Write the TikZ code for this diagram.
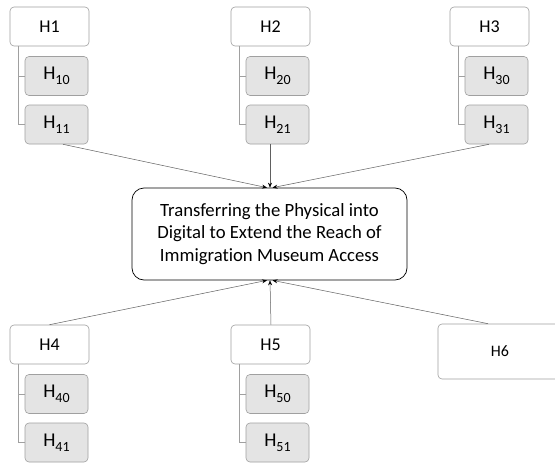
\documentclass[tikz,border=0pt]{standalone}
\usepackage{fontspec}
\setmainfont{Carlito}[Ligatures=NoCommon]
\usetikzlibrary{arrows.meta}
\definecolor{boxline}{HTML}{A0A0A0}
\definecolor{subfill}{HTML}{E4E4E4}
\definecolor{linkgray}{HTML}{606060}
\newcommand{\hsub}[1]{H\raisebox{-5pt}{\fontsize{14}{16}\selectfont #1}}
\tikzset{
  x=1pt, y=-1pt,
  headbox/.style={draw=boxline, fill=white, rounded corners=4pt, line width=0.6pt,
    minimum width=79pt, minimum height=39pt, inner sep=0pt, font=\fontsize{18}{20}\selectfont},
  subbox/.style={draw=boxline, fill=subfill, rounded corners=4pt, line width=0.6pt,
    minimum width=63pt, minimum height=39pt, inner sep=0pt, font=\fontsize{19.5}{22}\selectfont},
  treeline/.style={draw=boxline, line width=0.6pt},
  link/.style={draw=linkgray, line width=0.5pt, -{Stealth[length=5pt,width=4pt,color=black]}},
  mainbox/.style={draw=black, fill=white, rounded corners=12pt, line width=0.7pt,
    minimum width=275pt, minimum height=92pt, align=center, inner sep=0pt,
    font=\fontsize{18.7}{22.5}\selectfont},
}
\begin{document}
\begin{tikzpicture}
\useasboundingbox (0,0) rectangle (555,463);
\clip (0,0) rectangle (555,463);
\fill[white] (0,0) rectangle (555,463);

% central outcome
\node[mainbox] (c) at (269.5,234) {Transferring the Physical into\\Digital to Extend the Reach of\\Immigration Museum Access};

% each head box with its two sub-boxes, hung from a bracket line
\foreach \n/\dx/\dy in {1/0/0, 2/221/0, 3/440/0, 4/0/318, 5/221/318} {
  \node[headbox] (h\n) at (49.5+\dx,26.5+\dy) {H\n};
  \node[subbox] (h\n0) at (56.5+\dx,76+\dy) {\hsub{\n0}};
  \node[subbox] (h\n1) at (56.5+\dx,124.5+\dy) {\hsub{\n1}};
  \coordinate (t\n) at (18+\dx,46+\dy);
  \draw[treeline] (t\n) |- (h\n1.west);
  \draw[treeline] (t\n |- h\n0.west) -- (h\n0.west);
}

\node[headbox, minimum width=124pt, minimum height=55pt, font=\fontsize{16}{18}\selectfont] (h6) at (500,351.5) {H6};

% links into the outcome
\draw[link] ([xshift=6.5pt]h11.south) -- ([xshift=-2.5pt]c.north);
\draw[link] ([xshift=-7.5pt]h21.south) -- ([xshift=0.5pt]c.north);
\draw[link] ([xshift=-7.5pt]h31.south) -- ([xshift=3pt]c.north);
\draw[link] (h4.north) -- ([xshift=-2.5pt]c.south);
\draw[link] ([xshift=0.5pt]h5.north) -- ([xshift=0.5pt]c.south);
\draw[link] ([xshift=-12pt]h6.north) -- ([xshift=3pt]c.south);
\end{tikzpicture}
\end{document}
